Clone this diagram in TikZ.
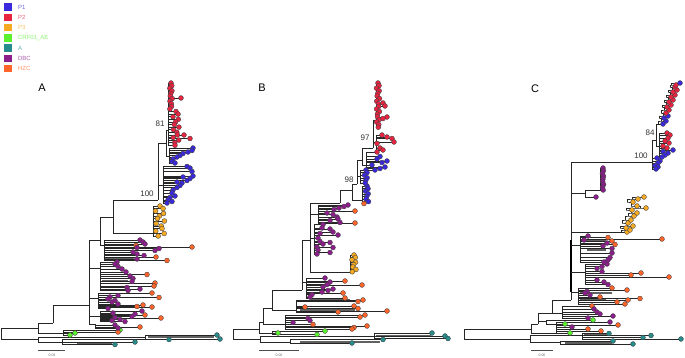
\documentclass[tikz,border=0pt]{standalone}
\usepackage{fontspec}
\setmainfont{Liberation Sans}
\usetikzlibrary{positioning}

\definecolor{p1}{RGB}{58,40,220}
\definecolor{p2}{RGB}{232,36,64}
\definecolor{p3}{RGB}{246,170,34}
\definecolor{crf}{RGB}{92,240,48}
\definecolor{sa}{RGB}{38,140,140}
\definecolor{dbc}{RGB}{140,30,140}
\definecolor{hzc}{RGB}{255,100,40}

\tikzset{
  branch/.style={line width=0.42pt, black!85},
  bar/.style={line width=1.8pt, black!62},
  tipdot/.style={draw=black!75, line width=0.35pt},
  boot/.style={font=\fontsize{8}{9}\selectfont, text=black!80, inner sep=0pt},
  panel/.style={font=\fontsize{11}{13}\selectfont, inner sep=0pt},
  legsq/.style={minimum size=7.5pt, inner sep=0pt},
  legtx/.style={font=\fontsize{6}{7}\selectfont, inner sep=0pt, anchor=west},
  sclab/.style={font=\fontsize{3.5}{4}\selectfont, text=black!60, inner sep=0pt},
}

% first pass draws the branches, second pass the tips
\newif\ifdots

% spine at #1 from #2 to #3, tips tx/ty/colour
\newcommand{\clade}[4]{%
  \ifdots\else\draw[branch] (#1,#2) -- (#1,#3);\fi
  \foreach \tx/\ty/\tc in {#4}{%
    \ifdots\filldraw[tipdot, fill=\tc] (\tx,\ty) circle (2.45pt);%
    \else\draw[branch] (#1,\ty) -- (\tx,\ty);\fi
  }}

% stacked column: spine, tip x, first y, step, last index, colour, jitter
\newcommand{\tipcol}[7]{%
  \ifdots\else\draw[branch] (#1,#3) -- (#1,{#3+#5*#4});\fi
  \foreach \k in {0,...,#5}{%
    \pgfmathsetmacro\ty{#3+\k*#4}%
    \pgfmathsetmacro\tx{#2+#7*sin(\k*137)}%
    \ifdots\filldraw[tipdot, fill=#6] (\tx,\ty) circle (2.45pt);%
    \else\draw[branch] (#1,\ty) -- (\tx,\ty);\fi
  }}

% staircase of tips, offset #1, start #2/#3
\newcommand{\ladder}[4]{%
  \foreach \tx/\ty/\tc [remember=\tx as \px (initially #2), remember=\ty as \py (initially #3)] in {#4}{%
    \ifdots\filldraw[tipdot, fill=\tc] (\tx,\ty) circle (2.45pt);%
    \else\draw[branch] (\px-#1,\py) |- (\tx-#1,\ty) -- (\tx,\ty);\fi
  }}

\begin{document}
\begin{tikzpicture}[x=1pt, y=-1pt]
\fill[white] (0,0) rectangle (685,357);
\useasboundingbox (0,0) rectangle (685,357);

% legend
\foreach \c/\t [count=\i] in {p1/P1, p2/P2, p3/P3, crf/CRF01\_AE, sa/A, dbc/DBC, hzc/HZC}{
  \node[legsq, fill=\c] (sq\i) at (8,{7+10.25*(\i-1)}) {};
  \node[legtx, text=\c!70, right=6pt of sq\i] (lt\i) {\t};
}

% ---------------- tree A ----------------
\draw[bar] (148,337) -- (214,337);
\draw[bar] (77,343) -- (112,343);
\draw[bar] (66,330.5) -- (116,330.5);
\draw[bar] (105,258) -- (134,258);
\draw[bar] (102,281) -- (128,281);
\draw[bar] (100,306) -- (116,306);
\draw[bar] (102,319) -- (112,319);
\draw[bar] (170,158) -- (178,158);

\draw[branch] (38,328) -| (1,339) -- (38,339);
\draw[branch] (38,337) -- (38,342);
\draw[branch] (38,337) -- (145,337);
\draw[branch] (38,342) -- (62,342);
\draw[branch] (38,323) -- (38,333) -- (63,333);
\draw[branch] (38,323) -- (53,323);
\draw[branch] (53,305) -- (53,323);
\draw[branch] (53,305) -- (89,305);
\draw[branch] (89,240) -- (89,324);
\draw[branch] (89,240) -- (100,240);
\draw[branch] (100,217) -- (100,245) -- (104,245);
\draw[branch] (100,217) -- (113,217);
\draw[branch] (113,200) -- (113,233);
\draw[branch] (113,200) -- (158,200);
\draw[branch] (113,233) -- (153,233);
\draw[branch] (89,268) -- (100,268);
\draw[branch] (89,298) -- (98,298);
\draw[branch] (89,316) -- (100,316);
\draw[branch] (89,324) -- (95,324);
\draw[branch] (158,143) -- (158,200);
\draw[branch] (158,143) -- (166,143);
\draw[branch] (166,130) -- (166,156);
\draw[branch] (166,130) -- (168,130);
\draw[branch] (166,156) -- (169,156);
\draw[branch] (158,185) -- (163,185);

\draw[line width=0.6pt, black!70] (38,350) -- (65,350);

% ---------------- tree B ----------------
\draw[bar] (310,300) -- (350,300);
\draw[bar] (300,310) -- (355,310);
\draw[bar] (288,326.5) -- (350,326.5);
\draw[bar] (376,336) -- (431,336);
\draw[bar] (378,338.5) -- (444,338.5);
\draw[bar] (300,342) -- (380,342);

\draw[branch] (259,329) -| (233,339) -- (260,339);
\draw[branch] (260,336) -- (260,342);
\draw[branch] (260,336) -- (374,336);
\draw[branch] (260,342) -- (290,342);
\draw[branch] (259,322) -- (259,333);
\draw[branch] (259,333) -- (272,333);
\draw[branch] (259,322) -- (263,322);
\draw[branch] (263,308) -- (263,324);
\draw[branch] (263,324) -- (285,324);
\draw[branch] (263,308) -- (272,308);
\draw[branch] (272,290) -- (272,310);
\draw[branch] (272,310) -- (296,310);
\draw[branch] (272,290) -- (302,290);
\draw[branch] (302,240) -- (302,290);
\draw[branch] (302,282) -- (306,282);
\draw[branch] (302,240) -- (310,240);
\draw[branch] (310,203) -- (310,272);
\draw[branch] (310,203) -- (340,203);
\draw[branch] (310,214) -- (318,214);
\draw[branch] (310,238) -- (314,238);
\draw[branch] (310,272) -- (350,272);
\draw[branch] (350,255) -- (350,272);
\draw[branch] (340,190) -- (340,203);
\draw[branch] (340,190) -- (352,190);
\draw[branch] (352,184) -- (352,200);
\draw[branch] (352,200) -- (362,200);
\draw[branch] (352,184) -- (357,184);
\draw[branch] (357,160) -- (357,184);
\draw[branch] (357,176) -- (360,176);
\draw[branch] (357,160) -- (362,160);
\draw[branch] (362,148) -- (362,165);
\draw[branch] (362,165) -- (366,165);
\draw[branch] (362,148) -- (373,148);
\draw[branch] (373,120) -- (373,148);
\draw[branch] (373,120) -- (376,120);
\draw[branch] (373,142) -- (376,142);

\draw[line width=0.6pt, black!70] (259,350) -- (299,350);

% ---------------- tree C ----------------
\draw[bar] (582,240) -- (606,240);
\draw[bar] (587,250) -- (606,250);
\draw[bar] (580,293) -- (612,293);
\draw[bar] (580,300) -- (606,300);
\draw[bar] (560,329.5) -- (586,329.5);
\draw[bar] (584,334.5) -- (608,334.5);
\draw[bar] (565,343) -- (612,343);
\draw[bar] (610,337.5) -- (642,337.5);

\draw[branch] (531,329) -| (464,339) -- (530,339);
\draw[branch] (530,335) -- (530,342);
\draw[branch] (530,335) -- (582,335);
\draw[branch] (530,342) -- (560,342);
\draw[branch] (531,324) -- (531,333);
\draw[branch] (531,333) -- (556,333);
\draw[branch] (531,324) -- (538,324);
\draw[branch] (538,313) -- (538,324);
\draw[branch] (538,321) -- (546,321);
\draw[branch] (538,313) -- (552,313);
\draw[branch] (552,300) -- (552,313);
\draw[branch] (552,313) -- (562,313);
\draw[branch] (552,300) -- (571,300);
\draw[branch] (571,162) -- (571,300);
\draw[line width=1.3pt] (571,240) -- (571,292);
\draw[branch] (571,162) -- (652,162);
\draw[branch] (571,193) -- (585,193);
\draw[branch] (585,190) -- (585,197);
\draw[branch] (585,190) -- (600,190);
\draw[branch] (571,232) -- (621,232);
\draw[branch] (571,245) -- (580,245);
\draw[branch] (571,272) -- (585,272);
\draw[branch] (571,292) -- (578,292);
\draw[branch] (652,140) -- (652,168);
\draw[branch] (652,140) -- (656,140);
\draw[branch] (656,124) -- (656,146);
\draw[branch] (656,146) -- (659,146);
\draw[branch] (656,124) -- (658,124);

\draw[line width=0.6pt, black!70] (531,350) -- (553,350);

% ---------------- tips, in two passes ----------------
\foreach \pass in {0,1}{
\ifnum\pass=1 \dotstrue\fi
% A
\clade{145}{335}{339}{217/335/sa, 220/339/sa}
\clade{62}{339.5}{344.5}{169/339.5/sa, 135/342/sa, 115/344.5/sa}
\clade{63}{330}{335}{120/330/crf, 118/332/hzc, 75/333/crf, 70/335/crf}
\clade{104}{240}{260.5}{140/240/dbc, 143/242/dbc, 145/244/dbc, 136/245.5/hzc, 137/247.5/dbc, 192/247/hzc, 159/248.5/dbc, 155/250.5/dbc, 133/252/dbc, 137/254/dbc, 144/255.5/dbc, 156/257/hzc, 137/259/dbc, 167/260.5/hzc}
\clade{100}{262}{290.5}{117/262/dbc, 115/264/dbc, 118/266.5/dbc, 122/269/dbc, 126/272/dbc, 147/274.5/hzc, 130/276/dbc, 133/278.5/dbc, 132/281.5/dbc, 155/283/hzc, 154/286/hzc, 127/287.5/dbc, 140/289/dbc, 128/290.5/dbc}
\clade{98}{293}{308.5}{152/293/hzc, 118/295.5/dbc, 110/297/dbc, 159/297.5/hzc, 108/299/dbc, 115/300.5/dbc, 112/302/dbc, 118/304/dbc, 143/305/hzc, 137/306.5/hzc, 152/307/hzc, 108/308.5/dbc}
\clade{100}{311}{321.5}{142/311/dbc, 113/313/dbc, 135/314/dbc, 145/315/hzc, 132/316.5/dbc, 115/317.5/dbc, 161/318/hzc, 120/319.5/dbc, 112/320.5/dbc, 125/321.5/dbc}
\clade{95}{324}{328}{115/325/dbc, 140/327/hzc, 118/328/dbc}
\tipcol{153}{160}{206}{2.5}{12}{p3}{4.5}
\clade{163}{166.5}{203}{187/166.5/p1, 190/168/p1, 192/171.5/p1, 193/176/p1, 183/177/p1, 190/178.5/p1, 187/180.5/p1, 177/182/p1, 182/183/p1, 180/185.5/p1, 177/187.5/p1, 173/190/p1, 172/193/p1, 175/196/p1, 170/197.5/p1, 168/200/p1, 172/201.5/p1, 167/203/p1}
\clade{169}{148}{163}{193/148/p1, 192/150.5/p1, 188/152/p1, 183/153.5/p1, 180/155.5/p1, 177/157/p1, 173/159/p1, 172/161.5/p1, 175/163/p1}
\tipcol{168}{171}{83}{2.6}{10}{p2}{1.2}
\tipcol{168}{176}{111.5}{2.6}{13}{p2}{3}
\clade{168}{98}{138.5}{181/98/p2, 184/135/p2, 190/138.5/p2}
% B
\clade{374}{333}{338.5}{432/333/sa, 445/336/sa, 448/338.5/sa}
\clade{290}{339.5}{343}{383/339.5/sa, 352/343/sa}
\clade{272}{331}{335}{325/331/crf, 278/333/crf, 317/334.5/crf}
\clade{285}{315}{329}{365/315/hzc, 360/317/hzc, 308/318.5/dbc, 310/320.5/dbc, 293/322.5/dbc, 313/324.5/hzc, 367/326/hzc, 354/327.5/hzc, 352/329/hzc}
\clade{296}{300}{312}{363/300/hzc, 358/301.5/hzc, 354/306/hzc, 305/307/hzc, 358/308.5/hzc, 387/311/hzc, 338/312/hzc}
\clade{306}{278}{298}{325/278/dbc, 345/281/hzc, 330/282/dbc, 327/284.5/dbc, 362/285/hzc, 323/287/dbc, 333/289/dbc, 328/290.5/dbc, 322/292/dbc, 343/293/hzc, 312/294.5/dbc, 310/297/dbc, 345/298/hzc}
\tipcol{350}{354}{255}{2.4}{7}{p3}{2}
\clade{314}{224.5}{254}{323/224.5/dbc, 322/228/dbc, 330/229/dbc, 333/232/dbc, 320/233.5/dbc, 338/235/dbc, 318/238/dbc, 320/241.5/dbc, 330/242.5/dbc, 323/244/dbc, 317/247/dbc, 333/247.5/dbc, 318/250/dbc, 330/252.5/dbc, 317/254/dbc}
\clade{318}{205}{223}{348/205/dbc, 344/206.5/dbc, 339/208/dbc, 334/209.5/dbc, 355/211/hzc, 327/213/dbc, 333/214.5/dbc, 337/217/dbc, 338/219/dbc, 330/220.5/dbc, 340/222.5/dbc, 355/223/hzc}
\tipcol{362}{367}{186}{2.6}{6}{p1}{1.5}
\clade{362}{200}{203.5}{364/203.5/hzc}
\tipcol{360}{366}{170}{2.6}{5}{p1}{1.5}
\clade{366}{152}{170}{377/152/p2, 380/156.5/p1, 377/159/p1, 387/161/p1, 382/162.5/p1, 372/165/p1, 385/167/p1, 380/168.5/p1, 375/170/p1}
\clade{376}{135}{150}{382/135/p2, 387/137/p2, 392/138.5/p2, 394/142/p2, 377/143.5/p2, 380/148/p2, 383/150/p2}
\tipcol{376}{378}{83}{2.6}{17}{p2}{1.5}
\clade{376}{103}{118.5}{383/103/p2, 385/106/p2, 387/117/p2, 383/118.5/p2}
% C
\clade{582}{333.5}{339}{609/333.5/sa, 651/335.5/sa, 643/337.5/sa, 681/339/sa}
\clade{560}{341}{344}{613/341/sa, 633/344/sa}
\clade{546}{320}{324}{593/320/crf, 565/324/crf}
\clade{556}{322}{333}{610/322/dbc, 618/325/hzc, 572/327/dbc, 588/329/hzc, 601/331/hzc, 570/333/crf}
\clade{562}{306}{318}{592/306/hzc, 594/309/dbc, 597/312/dbc, 600/314/dbc, 613/316/dbc, 588/318/dbc}
\clade{578}{288}{304}{612/288/hzc, 627/290/hzc, 587/291.5/dbc, 585/293/dbc, 590/295/dbc, 600/297/hzc, 640/298.5/hzc, 628/300/hzc, 617/302/hzc, 625/304/hzc}
\clade{585}{264}{284.5}{607/264/dbc, 602/266.5/dbc, 597/268.5/dbc, 602/271.5/dbc, 641/273/hzc, 631/275/hzc, 669/277/hzc, 597/280/dbc, 604/282/dbc, 608/284.5/dbc}
\clade{580}{236}{262}{588/236/dbc, 608/237.5/hzc, 662/239/hzc, 584/240/dbc, 612/241/hzc, 607/243/dbc, 615/244.5/hzc, 603/246/dbc, 612/248.5/dbc, 612/253/dbc, 610/257.5/dbc, 608/260/dbc, 604/262/dbc}
\ladder{6}{627}{232}{627/232/p3, 630/230/p3, 626/228/p3, 633/226/p3, 628/223/p3, 631/220/p3, 634/216/p3, 637/213/p3, 632/210/p3, 646/208/p3, 637/206/p3, 633/202/p3, 638/199/p3, 644/197/p3}
\tipcol{600}{603}{168}{2.75}{8}{dbc}{0.6}
\clade{585}{197}{197}{596/197/dbc}
\clade{652}{158}{169}{657/158/p1, 660/161/p1, 658/163/p1, 655/165.5/p1, 658/167/p1, 656/169/p1}
\clade{659}{133}{157}{667/133/p2, 670/135/p2, 668/138/p2, 665/141/p2, 669/143/p2, 663/146/p2, 667/148/p2, 673/150/p1, 663/151.5/p1, 668/153/p1, 665/155/p1, 662/157/p1}
\ladder{5}{663}{124}{663/124/p1, 666/121/p1, 664/118/p1, 668/116/p1, 666/113/p2, 669/110/p2, 667/107/p2, 671/105/p2, 669/102/p2, 673/100/p2, 671/97/p2, 675/95/p2, 673/92/p2, 677/90/p2, 675/87/p2, 676/85/p2, 680/83/p1}
}

% labels
\node[panel] (labA) at (42,88) {A};
\node[panel] (labB) at (262,88) {B};
\node[panel] (labC) at (535,89) {C};
\node[boot] (bootA1) at (160,124) {81};
\node[boot] (bootA2) at (147,194) {100};
\node[boot] (bootB1) at (365,138) {97};
\node[boot] (bootB2) at (349,180) {98};
\node[boot] (bootC1) at (650,133) {84};
\node[boot] (bootC2) at (641,156) {100};
\node[sclab] (scA) at (52,355) {0.03};
\node[sclab] (scB) at (279,355) {0.02};
\node[sclab] (scC) at (542,355) {0.06};

\end{tikzpicture}
\end{document}
